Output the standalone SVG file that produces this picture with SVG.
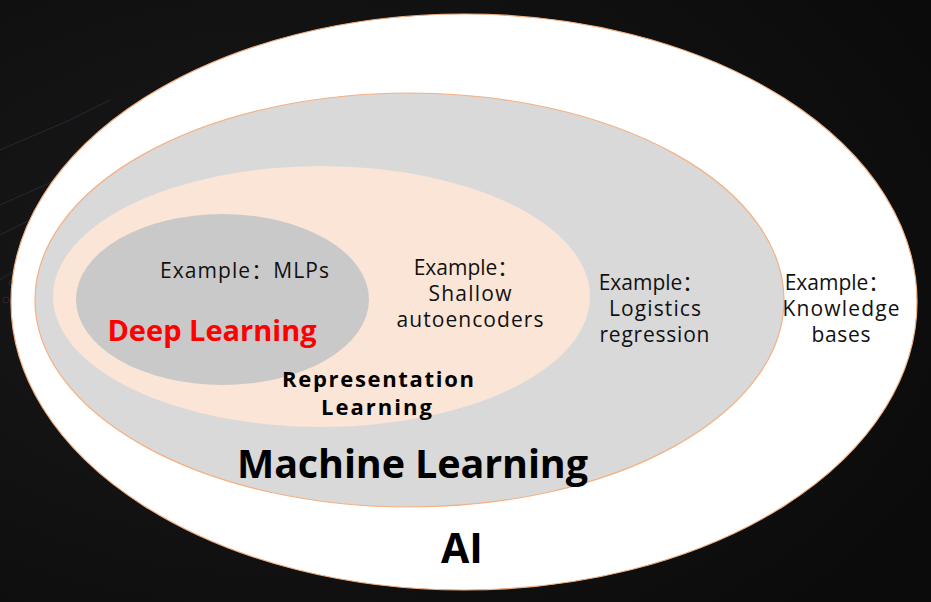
<svg xmlns="http://www.w3.org/2000/svg" width="931" height="602" viewBox="0 0 931 602">
  <style>
    .ex { font-family: "Open Sans", "Noto Sans CJK SC", sans-serif; font-size: 21px; fill: #111111; text-anchor: middle; }
    .bold { font-family: "Open Sans", "Noto Sans CJK SC", sans-serif; font-weight: bold; fill: #000000; text-anchor: middle; }
    .edge { stroke: #f4b183; stroke-width: 1.2; }
  </style>
  <defs>
    <radialGradient id="bg" cx="0.3" cy="0.45" r="0.8">
      <stop offset="0" stop-color="#1a1a1c"/>
      <stop offset="1" stop-color="#0b0b0b"/>
    </radialGradient>
  </defs>
  <rect x="0" y="0" width="931" height="602" fill="url(#bg)"/>
  <g id="background-lines" stroke="#3a3d48" stroke-width="1" fill="none" opacity="0.5">
    <path d="M0 150 L70 120 L110 100"/>
    <path d="M0 205 L90 165"/>
    <path d="M0 235 L60 205"/>
    <path d="M15 270 L0 280"/>
    <circle cx="12" cy="283" r="3"/>
    <circle cx="6" cy="300" r="3"/>
  </g>
  <g id="ai">
    <ellipse cx="464" cy="302" rx="453" ry="288" fill="#ffffff" class="edge"/>
  </g>
  <g id="machine-learning">
    <ellipse cx="409.5" cy="300" rx="374.5" ry="207" fill="#d9d9d9" class="edge"/>
  </g>
  <g id="representation-learning">
    <ellipse cx="321.5" cy="296.5" rx="268.5" ry="130.5" fill="#fbe5d6"/>
  </g>
  <g id="deep-learning">
    <ellipse cx="222.5" cy="299.5" rx="146.5" ry="85.5" fill="#c9c9c9"/>
  </g>
  <g id="labels">
    <text class="ex" x="244.5" y="278" textLength="169">Example：MLPs</text>
    <text class="bold" x="212" y="341" font-size="29" style="fill:#ff0000">Deep Learning</text>

    <text class="ex" x="466" y="275">Example：</text>
    <text class="ex" x="470" y="301" textLength="83">Shallow</text>
    <text class="ex" x="470" y="327" textLength="147">autoencoders</text>

    <text class="ex" x="651" y="290">Example：</text>
    <text class="ex" x="655" y="316" textLength="92">Logistics</text>
    <text class="ex" x="654.5" y="342" textLength="110">regression</text>

    <text class="ex" x="837" y="290">Example：</text>
    <text class="ex" x="841" y="316" textLength="117">Knowledge</text>
    <text class="ex" x="841" y="342" textLength="59">bases</text>

    <text class="bold" x="378" y="387" font-size="22" textLength="192">Representation</text>
    <text class="bold" x="376.5" y="415" font-size="22" textLength="111">Learning</text>

    <text class="bold" x="412.5" y="478" font-size="39.5" textLength="351">Machine Learning</text>
    <text class="bold" x="462" y="563" font-size="41">AI</text>
  </g>
</svg>
